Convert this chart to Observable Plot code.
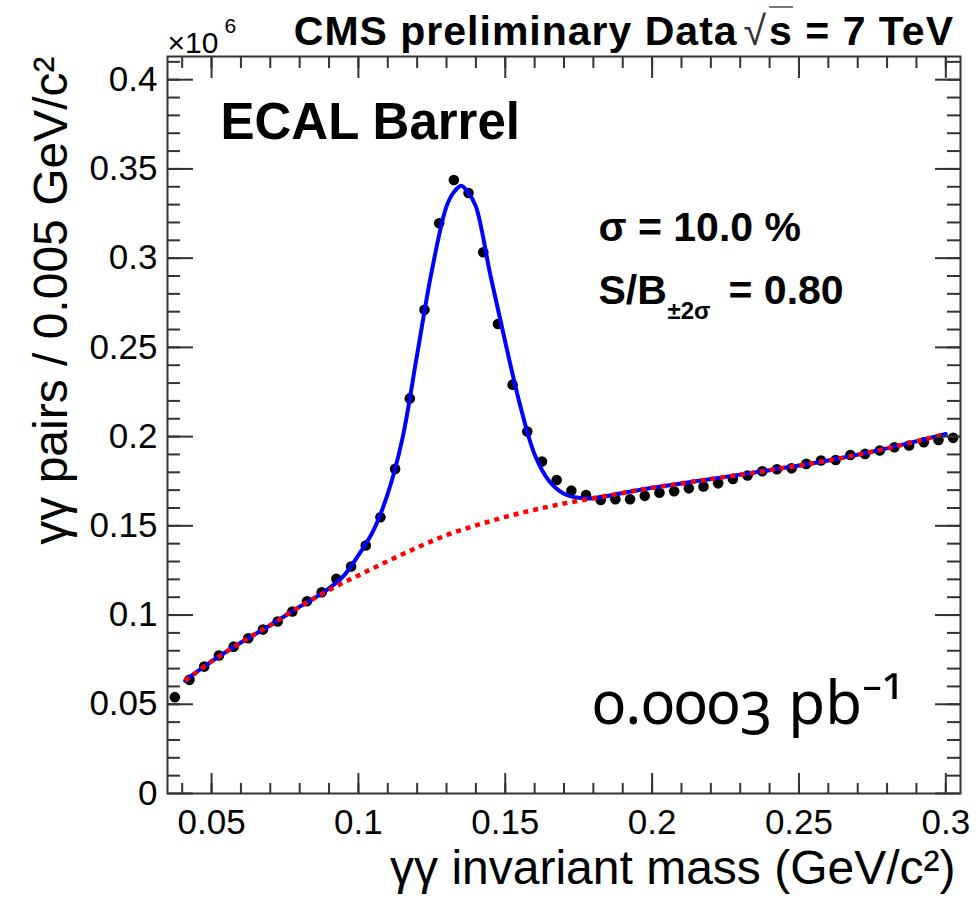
<!DOCTYPE html>
<html><head><meta charset="utf-8">
<script src="https://cdn.jsdelivr.net/npm/d3@7"></script>
<script src="https://cdn.jsdelivr.net/npm/@observablehq/plot@0.6"></script>
<style>
body{margin:0;background:#fff;}
#chart{position:relative;width:976px;height:899px;overflow:hidden;}
#hdr{position:absolute;right:22px;top:11px;font:bold 41px 'Liberation Sans',Arial,sans-serif;letter-spacing:1px;line-height:40px;white-space:nowrap;color:#000;}
#hdr .rt{font-weight:normal;color:#333;margin-left:6px;margin-right:2px;}
#hdr .ov{font-weight:bold;color:#000;text-decoration:overline;text-decoration-color:#777;text-decoration-thickness:2px;}
</style></head><body><div id="chart"></div>
<script>
// Data: bin centres (GeV/c^2) and γγ pairs per 0.005 GeV/c^2 (×10^6)
const binCenters = [0.0375,0.0425,0.0475,0.0525,0.0575,0.0625,0.0675,0.0725,0.0775,0.0825,0.0875,0.0925,0.0975,0.1025,0.1075,0.1125,0.1175,0.1225,0.1275,0.1325,0.1375,0.1425,0.1475,0.1525,0.1575,0.1625,0.1675,0.1725,0.1775,0.1825,0.1875,0.1925,0.1975,0.2025,0.2075,0.2125,0.2175,0.2225,0.2275,0.2325,0.2375,0.2425,0.2475,0.2525,0.2575,0.2625,0.2675,0.2725,0.2775,0.2825,0.2875,0.2925,0.2975,0.3025];
const pairs = [0.0540,0.0637,0.0711,0.0773,0.0823,0.0870,0.0919,0.0964,0.1020,0.1077,0.1128,0.1203,0.1272,0.1390,0.1548,0.1819,0.2214,0.2711,0.3195,0.3438,0.3365,0.3033,0.2631,0.2291,0.2028,0.1860,0.1757,0.1697,0.1673,0.1645,0.1649,0.1649,0.1668,0.1685,0.1694,0.1710,0.1720,0.1738,0.1763,0.1782,0.1806,0.1817,0.1822,0.1847,0.1866,0.1869,0.1897,0.1903,0.1922,0.1940,0.1950,0.1968,0.1981,0.1993];

// Fit: signal + background (blue)
const fitMass  = [0.041,0.05,0.06,0.07,0.08,0.085,0.09,0.095,0.10,0.105,0.11,0.115,0.12,0.125,0.13,0.1325,0.135,0.1375,0.14,0.145,0.15,0.155,0.16,0.165,0.17,0.175,0.18,0.19,0.20,0.22,0.24,0.26,0.28,0.30];
const fitTotal = [0.0633,0.0740,0.0846,0.0943,0.1047,0.1095,0.1150,0.1220,0.1335,0.1470,0.1680,0.1990,0.2460,0.2930,0.3290,0.3370,0.3406,0.3365,0.3290,0.2900,0.2530,0.2180,0.1900,0.1750,0.1680,0.1657,0.1655,0.1684,0.1713,0.1762,0.1812,0.1866,0.1934,0.2015];

// Background only (red dotted)
const bkgMass   = [0.041,0.05,0.06,0.07,0.08,0.09,0.10,0.11,0.12,0.13,0.14,0.15,0.16,0.17,0.18,0.19,0.20,0.22,0.24,0.26,0.28,0.30];
const bkgValues = [0.0633,0.0740,0.0846,0.0943,0.1047,0.1140,0.1222,0.1302,0.1378,0.1448,0.1502,0.1550,0.1590,0.1625,0.1655,0.1684,0.1713,0.1762,0.1812,0.1866,0.1934,0.2015];

// Axis ticks
const xTicks = [0.05,0.1,0.15,0.2,0.25,0.3];
const xTickLabels = ["0.05","0.1","0.15","0.2","0.25","0.3"];
const xMinor = [0.04,0.05,0.06,0.07,0.08,0.09,0.10,0.11,0.12,0.13,0.14,0.15,0.16,0.17,0.18,0.19,0.20,0.21,0.22,0.23,0.24,0.25,0.26,0.27,0.28,0.29,0.30];
const yTicks = [0,0.05,0.1,0.15,0.2,0.25,0.3,0.35,0.4];
const yTickLabels = ["0","0.05","0.1","0.15","0.2","0.25","0.3","0.35","0.4"];
const yMinor = [0.01,0.02,0.03,0.04,0.05,0.06,0.07,0.08,0.09,0.10,0.11,0.12,0.13,0.14,0.15,0.16,0.17,0.18,0.19,0.20,0.21,0.22,0.23,0.24,0.25,0.26,0.27,0.28,0.29,0.30,0.31,0.32,0.33,0.34,0.35,0.36,0.37,0.38,0.39,0.40,0.41];

const xTitle = "γγ invariant mass (GeV/c²)";
const yTitle = "γγ pairs / 0.005 GeV/c²";

const W = 976, H = 899, mL = 167, mR = 16, mT = 56, mB = 106;
const innerW = W - mL - mR, innerH = H - mT - mB;
const font = "'Liberation Sans', Arial, Helvetica, sans-serif";
const ax = "#333";

const pts = binCenters.map((m, i) => ({m, n: pairs[i]}));
const fit = fitMass.map((m, i) => ({m, v: fitTotal[i]}));
const bkg = bkgMass.map((m, i) => ({m, v: bkgValues[i]}));
const xLab = new Map(xTicks.map((t, i) => [t, xTickLabels[i]]));
const yLab = new Map(yTicks.map((t, i) => [t, yTickLabels[i]]));
const tk = {stroke: ax, strokeWidth: 2};
const note = {frameAnchor: "top-left", text: d => d, textAnchor: "start", lineAnchor: "bottom"};

const chart = Plot.plot({
  width: W, height: H, marginLeft: mL, marginRight: mR, marginTop: mT, marginBottom: mB,
  style: {fontFamily: font, color: "#000", background: "#fff", overflow: "visible"},
  x: {domain: [0.035, 0.305], label: null},
  y: {domain: [0, 0.413], label: null},
  marks: [
    Plot.dot(pts, {x: "m", y: "n", r: 5.3, fill: "#000", stroke: "none"}),
    Plot.line(fit, {x: "m", y: "v", stroke: "#0000ff", strokeWidth: 4, curve: "catmull-rom"}),
    Plot.line(bkg, {x: "m", y: "v", stroke: "#ff0000", strokeWidth: 4.5, strokeDasharray: "5,5", strokeLinecap: "butt", curve: "catmull-rom"}),
    Plot.tickX(xMinor, {x: d => d, insetTop: innerH - 10, ...tk}),
    Plot.tickX(xTicks, {x: d => d, insetTop: innerH - 20, ...tk}),
    Plot.tickX(xMinor, {x: d => d, insetBottom: innerH - 12, ...tk}),
    Plot.tickX(xTicks, {x: d => d, insetBottom: innerH - 22, ...tk}),
    Plot.tickY(yMinor, {y: d => d, insetRight: innerW - 13, ...tk}),
    Plot.tickY(yTicks, {y: d => d, insetRight: innerW - 26, ...tk}),
    Plot.tickY(yMinor, {y: d => d, insetLeft: innerW - 13, ...tk}),
    Plot.tickY(yTicks, {y: d => d, insetLeft: innerW - 25, ...tk}),
    Plot.frame({stroke: ax, strokeWidth: 2}),
    Plot.axisX(xTicks, {tickSize: 0, tickPadding: 16, fontSize: 35, tickFormat: d => xLab.get(d), label: null}),
    Plot.axisY(yTicks, {tickSize: 0, tickPadding: 10, fontSize: 35, tickFormat: d => yLab.get(d), label: null}),
    Plot.text([xTitle], {frameAnchor: "bottom-right", text: d => d, textAnchor: "end", lineAnchor: "bottom", dx: -5, dy: 90, fontSize: 48}),
    Plot.text([yTitle], {frameAnchor: "top-left", text: d => d, rotate: -90, textAnchor: "end", lineAnchor: "bottom", dx: -101, dy: 0, fontSize: 48}),
    Plot.text(["×10"], {...note, dx: 0, dy: -4, fontSize: 30}),
    Plot.text(["6"], {...note, dx: 57, dy: -24, fontSize: 21}),
    Plot.text(["ECAL Barrel"], {...note, dx: 53, dy: 82, fontSize: 51, fontWeight: "bold"}),
    Plot.text(["σ = 10.0 %"], {...note, dx: 431, dy: 184, fontSize: 41, fontWeight: "bold"}),
    Plot.text(["S/B"], {...note, dx: 431, dy: 247, fontSize: 41, fontWeight: "bold"}),
    Plot.text(["±2σ"], {...note, dx: 500, dy: 262, fontSize: 24, fontWeight: "bold"}),
    Plot.text(["= 0.80"], {...note, dx: 561, dy: 247, fontSize: 41, fontWeight: "bold"}),
    Plot.text(["0.0003 pb⁻¹"], {...note, dx: 425, dy: 667, fontSize: 60, fontFamily: "'Noto Sans', 'Open Sans', sans-serif", fontVariant: "oldstyle-nums"})
  ]
});
const host = document.getElementById("chart");
host.appendChild(chart);
const hdr = document.createElement("div");
hdr.id = "hdr";
hdr.innerHTML = 'CMS preliminary Data<span class="rt">√</span><span class="ov">s</span> = 7 TeV';
host.appendChild(hdr);
</script></body></html>
